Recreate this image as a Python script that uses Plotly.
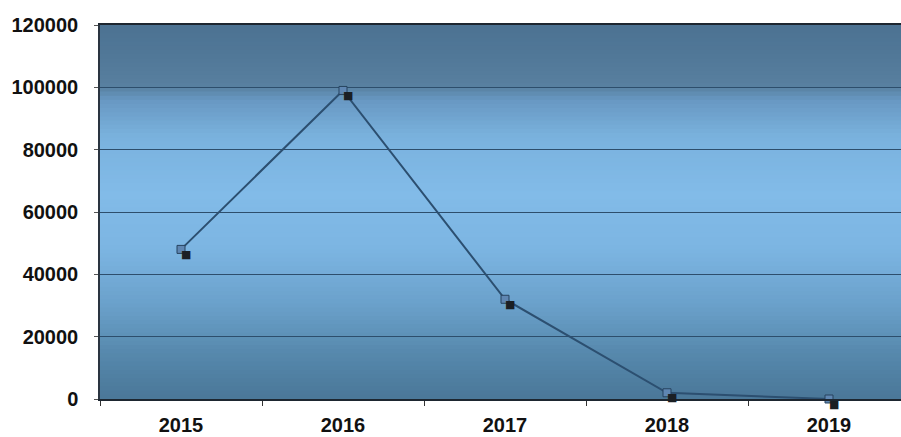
import plotly.graph_objects as go

# Yearly totals
years = ["2015", "2016", "2017", "2018", "2019"]
totals = [48000, 99000, 32000, 2000, 0]
y_ticks = [0, 20000, 40000, 60000, 80000, 100000, 120000]

# Vertical background gradient stops (fraction from bottom, colour)
bg_stops = [
    (0.00, (74, 119, 152)),
    (0.12, (86, 136, 172)),
    (0.25, (106, 160, 202)),
    (0.40, (124, 181, 226)),
    (0.55, (130, 187, 232)),
    (0.70, (122, 178, 222)),
    (0.80, (104, 152, 194)),
    (0.835, (88, 128, 160)),
    (0.90, (82, 121, 153)),
    (1.00, (76, 114, 146)),
]


def lerp_colour(t):
    for (t0, c0), (t1, c1) in zip(bg_stops, bg_stops[1:]):
        if t0 <= t <= t1:
            f = 0 if t1 == t0 else (t - t0) / (t1 - t0)
            r, g, b = (round(a + (b_ - a) * f) for a, b_ in zip(c0, c1))
            return f"rgb({r},{g},{b})"
    return "rgb(%d,%d,%d)" % bg_stops[-1][1]


n_bands = 90
shapes = []
for i in range(n_bands):
    y0 = i / n_bands
    y1 = (i + 1) / n_bands
    shapes.append(dict(
        type="rect", xref="x domain", yref="y domain",
        x0=0, x1=1, y0=y0, y1=y1 + 0.002,
        fillcolor=lerp_colour((y0 + y1) / 2),
        line=dict(width=0), layer="below",
    ))

W, H = 901, 437
ML, MT, MB = 100, 25, 38
plot_w = W - ML
cat_px = 162
x_range = [-0.5, -0.5 + plot_w / cat_px]
y_range = [0, 120000]

fig = go.Figure()

fig.add_trace(go.Scatter(
    x=years, y=totals, mode="lines+markers",
    line=dict(color="#2c4f70", width=2),
    marker=dict(symbol="square", size=8, color="#5f86b2",
                line=dict(color="#27435f", width=1)),
    cliponaxis=False, hoverinfo="skip", showlegend=False,
))

# dark drop shadow beside each marker (category index positions)
annotations = [
    dict(x=i, y=v, xref="x", yref="y", text="■", showarrow=False,
         font=dict(family="DejaVu Sans", size=11, color="#1b1f24"),
         borderpad=0, xshift=5, yshift=-5)
    for i, v in enumerate(totals)
]

tick_font = dict(family="Liberation Sans, Arial, sans-serif", size=20,
                 color="#111111", weight="bold")

fig.update_layout(
    width=W, height=H,
    margin=dict(l=ML, r=0, t=MT, b=MB, pad=0),
    paper_bgcolor="white",
    plot_bgcolor="rgba(0,0,0,0)",
    shapes=shapes,
    annotations=annotations,
    xaxis=dict(
        type="category", categoryorder="array", categoryarray=years,
        range=x_range, tickson="boundaries", ticks="outside", ticklen=5,
        tickcolor="#333333", showgrid=False, zeroline=False,
        showline=True, linecolor="#1d2630", linewidth=2, mirror=True,
        tickfont=tick_font, ticklabelstandoff=7,
    ),
    yaxis=dict(
        range=y_range, tickvals=y_ticks, ticks="outside", ticklen=4,
        tickcolor="#555555", showgrid=True, gridcolor="#2d4e6c", gridwidth=1,
        zeroline=False, showline=True, linecolor="#2a3440", linewidth=1.5,
        tickfont=tick_font, ticklabelstandoff=12,
        tickformat="d",
    ),
)

fig.write_html("out.html")
